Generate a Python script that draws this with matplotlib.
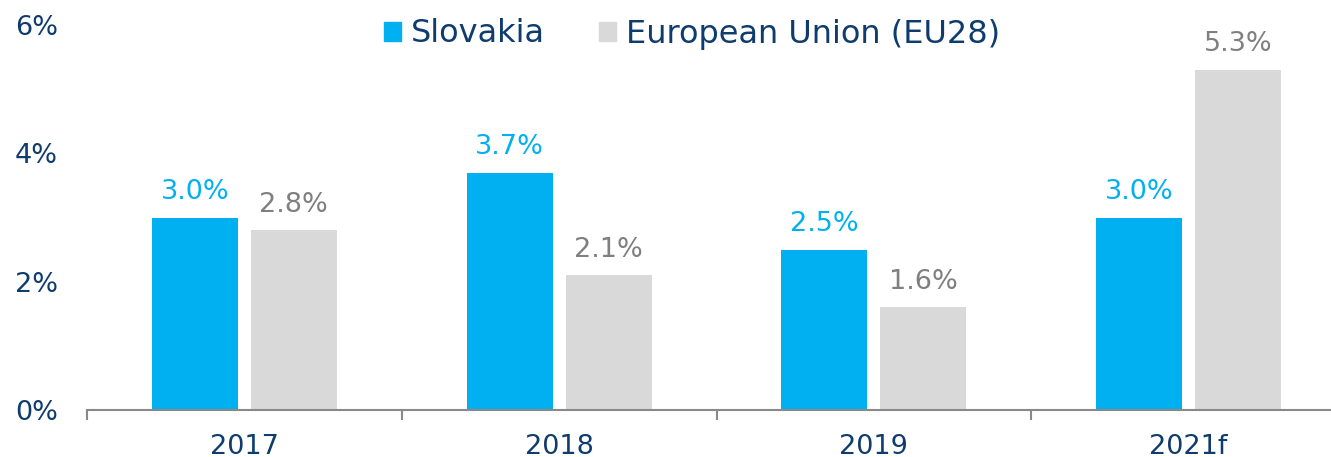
import numpy as np
import matplotlib.pyplot as plt
from matplotlib.patches import Patch

# data
years = ["2017", "2018", "2019", "2021f"]
slovakia = [3.0, 3.7, 2.5, 3.0]
eu28 = [2.8, 2.1, 1.6, 5.3]

blue = "#00B0F0"
grey = "#D9D9D9"
navy = "#0F3C6E"
label_grey = "#7F7F7F"

plt.rcParams['font.family'] = ['DejaVu Sans']

fig = plt.figure(figsize=(13.31, 4.57), dpi=100)
ax = fig.add_axes([87 / 1331, 1 - 410 / 457, (1346 - 87) / 1331, (410 - 25) / 457])

x = np.arange(len(years))
w = 0.273
off = 0.157
b1 = ax.bar(x - off, slovakia, w, color=blue)
b2 = ax.bar(x + off, eu28, w, color=grey)

for rect, v in zip(b1, slovakia):
    ax.annotate(f"{v:.1f}%", (rect.get_x() + rect.get_width() / 2, v),
                xytext=(0, 9), textcoords="offset points", ha="center", va="bottom",
                fontsize=19.5, color=blue)
for rect, v in zip(b2, eu28):
    ax.annotate(f"{v:.1f}%", (rect.get_x() + rect.get_width() / 2, v),
                xytext=(0, 9), textcoords="offset points", ha="center", va="bottom",
                fontsize=19.5, color=label_grey)

ax.set_xlim(-0.5, len(years) - 0.5)
ax.set_ylim(0, 6)
ax.set_yticks([0, 2, 4, 6])
ax.set_yticklabels(["0%", "2%", "4%", "6%"])
ax.tick_params(axis="y", length=0, labelsize=19.5, labelcolor=navy, pad=21)

# category labels between boundary ticks
ax.set_xticks(np.arange(len(years) + 1) - 0.5)
ax.set_xticklabels([])
ax.tick_params(axis="x", length=7, color="#898989", width=1.5, direction="out")
ax.set_xticks(x, minor=True)
ax.set_xticklabels(years, minor=True)
ax.tick_params(axis="x", which="minor", length=0, labelsize=19.5, labelcolor=navy, pad=17)

for s in ["top", "right", "left"]:
    ax.spines[s].set_visible(False)
ax.spines["bottom"].set_color("#898989")
ax.spines["bottom"].set_linewidth(1.5)

handles = [Patch(color=blue), Patch(color=grey)]
fig.legend(handles, ["Slovakia", "European Union (EU28)"], loc="center",
           bbox_to_anchor=(692 / 1331, 1 - 34 / 457), ncol=2, frameon=False,
           fontsize=23, labelcolor=navy, handlelength=0.53, handleheight=0.53,
           handletextpad=0.3, columnspacing=1.7, borderpad=0)

fig.savefig("out.png", dpi=100)
